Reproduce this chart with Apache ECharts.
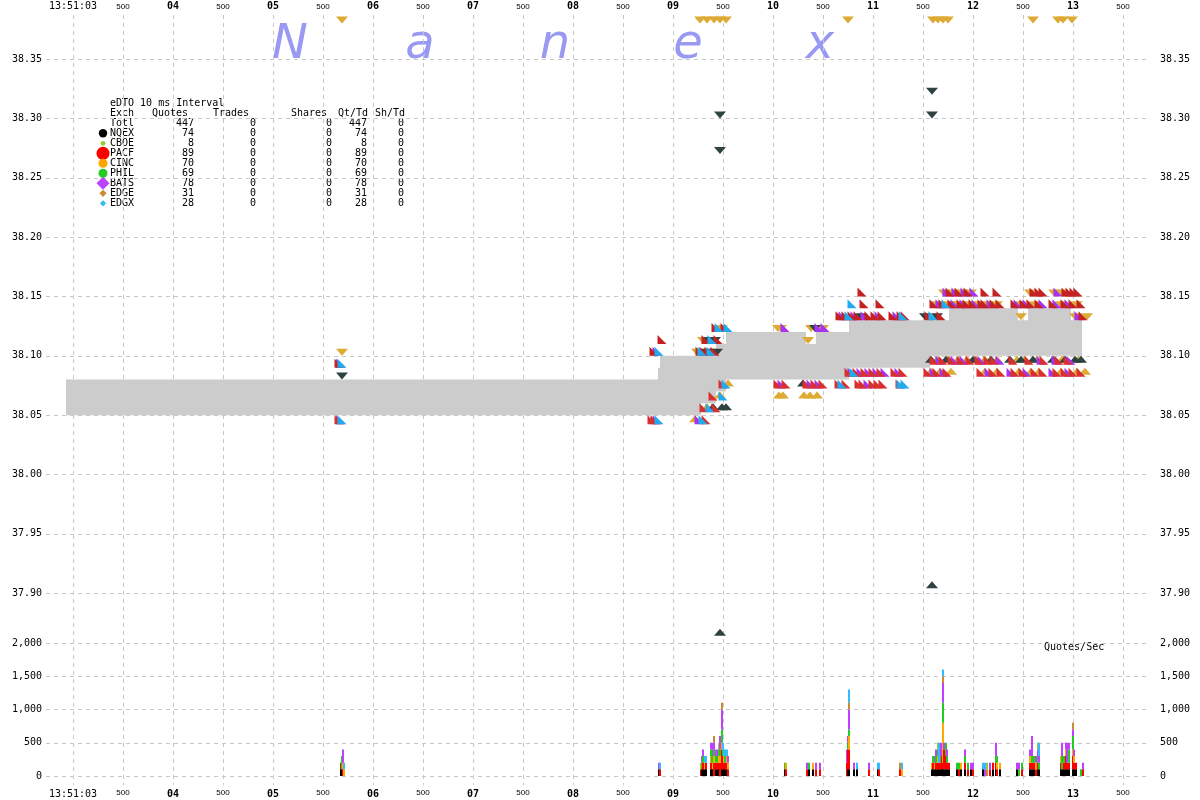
<!DOCTYPE html>
<html><head><meta charset="utf-8">
<script src="https://cdn.jsdelivr.net/npm/echarts@6/dist/echarts.min.js"></script>
<style>html,body{margin:0;padding:0;background:#fff}#c{width:1200px;height:800px}</style>
</head><body><div id="c"></div>
<script>
// ---------------- DATA ----------------
// time in seconds after 13:51:00
const exchanges   = ['NQEX','CBOE','PACF','CINC','PHIL','BATS','EDGE','EDGX'];
const quoteCounts = [74, 8, 89, 70, 69, 78, 31, 28];
const tradeCounts = [0, 0, 0, 0, 0, 0, 0, 0];
const shareCounts = [0, 0, 0, 0, 0, 0, 0, 0];
const qtPerTd     = [74, 8, 89, 70, 69, 78, 31, 28];
const shPerTd     = [0, 0, 0, 0, 0, 0, 0, 0];
const totalRow    = ['Totl', 447, 0, 0, 447, 0];
const titleText   = 'eDTO 10 ms Interval';
const headerCols  = ['Exch','Quotes','Trades','Shares','Qt/Td','Sh/Td'];
const watermark   = ['N','a','n','e','x'];

// NBBO band: [start, end, bid, ask]
const nbboSegments = [
  [2.93, 8.85, 38.05, 38.08],
  [8.85, 8.87, 38.05, 38.09],
  [8.87, 9.28, 38.05, 38.10],
  [9.28, 9.43, 38.06, 38.10],
  [9.43, 9.53, 38.07, 38.11],
  [9.53, 10.33, 38.08, 38.12],
  [10.33, 10.43, 38.08, 38.11],
  [10.43, 10.76, 38.08, 38.12],
  [10.76, 11.57, 38.09, 38.13],
  [11.57, 11.76, 38.10, 38.13],
  [11.76, 12.45, 38.10, 38.14],
  [12.45, 12.55, 38.10, 38.13],
  [12.55, 12.98, 38.10, 38.14],
  [12.98, 13.09, 38.10, 38.13]
];

// quote markers [time, price]
const askNQEX = [[5.69,38.08],[9.33,38.10],[9.44,38.10],[9.36,38.11],[9.42,38.11],[9.47,38.30],[9.47,38.27],[10.42,38.12],[10.88,38.13],[11.52,38.13],[11.64,38.13],[11.59,38.32],[11.59,38.30]];
const bidNQEX = [[9.40,38.06],[9.49,38.06],[9.53,38.06],[9.47,37.87],[10.30,38.08],[11.59,37.91],
  [11.58,38.10],[11.73,38.10],[12.00,38.10],[12.18,38.10],[12.37,38.10],[12.48,38.10],[12.60,38.10],[12.80,38.10],[12.92,38.10],[13.02,38.10],[13.08,38.10]];
const askPACF = [[5.66,38.09],[8.81,38.10],[8.89,38.11],[9.27,38.10],[9.31,38.10],[9.36,38.10],[9.42,38.10],[9.33,38.11],[9.45,38.11],[9.43,38.12],[9.52,38.12],
  [10.67,38.13],[10.73,38.13],[10.79,38.13],[10.85,38.13],[10.96,38.13],[11.02,38.13],[11.09,38.13],[11.20,38.13],[11.28,38.13],[11.32,38.13],
  [10.91,38.14],[11.07,38.14],[10.89,38.15],[11.56,38.13],[11.68,38.13],[13.10,38.13],
  [11.77,38.15],[11.86,38.15],[11.95,38.15],[12.12,38.15],[12.24,38.15],[12.61,38.15],[12.66,38.15],[12.70,38.15],[12.93,38.15],[12.97,38.15],[13.01,38.15],[13.05,38.15],
  [11.61,38.14],[11.70,38.14],[11.79,38.14],[11.88,38.14],[11.94,38.14],[12.00,38.14],[12.09,38.14],[12.12,38.14],[12.21,38.14],[12.27,38.14],[12.42,38.14],[12.51,38.14],[12.58,38.14],[12.66,38.14],[12.80,38.14],[12.92,38.14],[13.00,38.14],[13.08,38.14]];
const bidPACF = [[5.66,38.05],[8.79,38.05],[8.82,38.05],[9.33,38.05],[9.31,38.06],[9.43,38.06],[9.40,38.07],[9.50,38.08],[10.05,38.08],[10.13,38.08],[10.34,38.08],[10.42,38.08],[10.50,38.08],
  [10.76,38.09],[10.84,38.09],[10.92,38.09],[11.00,38.09],[11.08,38.09],[11.22,38.09],[11.30,38.09],
  [10.66,38.08],[10.73,38.08],[10.86,38.08],[10.90,38.08],[11.00,38.08],[11.05,38.08],[11.10,38.08],[11.27,38.08],
  [11.61,38.10],[11.70,38.10],[11.79,38.10],[11.88,38.10],[11.97,38.10],[12.06,38.10],[12.15,38.10],[12.21,38.10],[12.40,38.10],[12.56,38.10],[12.71,38.10],[12.86,38.10],[12.95,38.10],
  [11.55,38.09],[11.64,38.09],[11.74,38.09],[12.08,38.09],[12.20,38.09],[12.28,38.09],[12.42,38.09],[12.50,38.09],[12.62,38.09],[12.70,38.09],[12.84,38.09],[12.92,38.09],[13.00,38.09],[13.08,38.09]];
const askBATS = [[5.675,38.09],[8.84,38.10],[10.12,38.12],[10.46,38.12],[10.52,38.12],[10.70,38.13],[10.82,38.13],[10.92,38.13],[11.06,38.13],[11.24,38.13],[13.06,38.13],
  [11.74,38.15],[11.83,38.15],[11.92,38.15],[12.01,38.15],[12.85,38.15],
  [11.67,38.14],[11.82,38.14],[11.91,38.14],[12.03,38.14],[12.18,38.14],[12.45,38.14],[12.54,38.14],[12.70,38.14],[12.84,38.14],[12.96,38.14]];
const bidBATS = [[5.675,38.05],[8.84,38.05],[9.26,38.05],[10.09,38.08],[10.38,38.08],[10.46,38.08],[10.95,38.08],
  [10.79,38.09],[10.88,38.09],[10.96,38.09],[11.04,38.09],[11.12,38.09],[11.26,38.09],
  [11.67,38.10],[11.82,38.10],[11.91,38.10],[12.09,38.10],[12.27,38.10],[12.68,38.10],[12.83,38.10],[12.98,38.10],
  [11.61,38.09],[11.71,38.09],[12.16,38.09],[12.38,38.09],[12.54,38.09],[12.80,38.09],[12.96,38.09]];
const askEDGX = [[5.69,38.09],[8.86,38.10],[9.29,38.10],[9.38,38.10],[9.39,38.11],[9.46,38.12],[9.55,38.12],[10.76,38.13],[10.79,38.14],[11.30,38.13],[11.60,38.13],[11.73,38.14]];
const bidEDGX = [[5.69,38.05],[8.86,38.05],[9.30,38.05],[9.37,38.06],[9.50,38.07],[9.53,38.08],[10.69,38.08],[10.81,38.09],[11.28,38.08],[11.32,38.08]];
const askCINC = [[5.69,38.38],[9.27,38.38],[9.34,38.38],[9.41,38.38],[9.47,38.38],[9.53,38.38],[10.75,38.38],[11.60,38.38],[11.65,38.38],[11.70,38.38],[11.75,38.38],[12.60,38.38],[12.85,38.38],[12.90,38.38],[12.99,38.38],
  [5.69,38.10],[9.24,38.10],[9.40,38.10],[9.30,38.11],[9.49,38.12],[10.05,38.12],[10.08,38.12],[10.35,38.11],[10.38,38.12],[10.50,38.12],[12.48,38.13],[13.02,38.13],[13.14,38.13],
  [11.71,38.15],[11.80,38.15],[11.89,38.15],[11.98,38.15],[12.57,38.15],[12.81,38.15],[12.89,38.15],
  [11.64,38.14],[11.76,38.14],[11.85,38.14],[11.97,38.14],[12.06,38.14],[12.15,38.14],[12.24,38.14],[12.48,38.14],[12.62,38.14],[12.88,38.14],[13.04,38.14]];
const bidCINC = [[9.22,38.05],[9.34,38.06],[9.47,38.07],[9.55,38.08],[10.06,38.07],[10.10,38.07],[10.31,38.07],[10.37,38.07],[10.44,38.07],
  [11.64,38.10],[11.76,38.10],[11.85,38.10],[11.94,38.10],[12.03,38.10],[12.12,38.10],[12.24,38.10],[12.44,38.10],[12.52,38.10],[12.64,38.10],[12.89,38.10],[13.05,38.10],
  [11.58,38.09],[11.67,38.09],[11.78,38.09],[12.12,38.09],[12.24,38.09],[12.46,38.09],[12.58,38.09],[12.66,38.09],[12.88,38.09],[13.04,38.09],[13.12,38.09]];

// Quotes/Sec per 10 ms bucket: [time, NQEX, PACF, CINC, PHIL, BATS, EDGE, EDGX, CBOE]
const rateOrder = ['NQEX','PACF','CINC','PHIL','BATS','EDGE','EDGX','CBOE'];
const rateRows = [
  [5.68,100,100,0,0,0,0,0,0],[5.69,100,0,0,200,0,0,0,0],[5.70,0,100,100,0,200,0,0,0],[5.71,0,0,100,0,0,0,100,0],
  [8.86,100,0,0,0,100,0,0,0],[8.87,0,100,0,0,0,0,100,0],
  [9.28,0,100,100,0,0,0,0,0],[9.29,100,0,0,100,100,0,0,0],[9.30,100,100,0,100,100,0,0,0],[9.32,100,0,100,0,0,0,100,0],
  [9.33,100,100,0,0,0,0,100,0],[9.38,100,100,100,100,100,0,0,0],[9.39,100,100,0,200,100,0,0,0],[9.40,100,0,100,100,100,0,0,0],
  [9.41,0,200,100,100,100,100,0,0],[9.43,100,100,0,100,100,0,0,0],[9.45,100,100,0,100,100,0,0,0],[9.46,100,100,100,100,0,0,0,100],
  [9.47,0,200,100,100,200,0,0,0],[9.49,100,300,100,200,300,100,0,0],[9.50,100,200,0,100,0,0,100,0],[9.51,100,100,100,0,0,0,100,0],
  [9.52,100,100,0,100,0,0,100,0],[9.54,100,100,100,0,0,0,100,0],[9.55,0,100,100,0,100,0,0,0],
  [10.12,100,0,0,100,0,0,0,0],[10.13,0,100,100,0,0,0,0,0],
  [10.34,0,100,0,0,100,0,0,0],[10.36,100,0,0,100,0,0,0,0],[10.40,100,0,100,0,0,0,0,0],[10.43,0,100,0,0,100,0,0,0],[10.47,0,100,0,0,100,0,0,0],
  [10.74,0,200,0,0,200,0,0,0],[10.75,100,300,0,100,100,0,0,0],[10.76,100,300,200,100,300,100,200,0],
  [10.81,100,0,0,0,100,0,0,0],[10.84,100,0,0,0,0,0,100,0],[10.96,0,100,0,0,100,0,0,0],[11.05,100,0,0,0,0,0,100,0],[11.06,0,100,0,0,0,0,100,0],
  [11.27,0,100,0,0,0,100,0,0],[11.29,0,0,100,0,0,0,100,0],
  [11.59,100,0,100,0,0,0,0,0],[11.60,100,100,0,100,0,0,0,0],[11.62,100,0,100,0,100,0,0,0],[11.63,100,100,0,100,100,0,0,0],
  [11.65,100,100,100,100,0,0,0,100],[11.66,100,100,0,0,0,0,300,0],[11.68,100,100,0,100,200,0,0,0],[11.69,100,200,0,0,100,0,0,0],
  [11.70,100,100,600,300,300,100,100,0],[11.71,100,300,0,0,100,0,0,0],[11.73,100,200,0,200,0,0,0,0],[11.74,100,100,0,100,100,0,0,0],[11.76,100,100,0,0,0,0,0,0],
  [11.84,100,0,0,100,0,0,0,0],[11.86,0,100,0,100,0,0,0,0],[11.88,100,0,100,0,0,0,0,0],[11.92,100,100,0,100,100,0,0,0],
  [11.95,0,100,0,100,0,0,0,0],[11.98,100,0,0,0,100,0,0,0],[12.00,0,100,0,0,100,0,0,0],
  [12.10,100,0,0,0,0,0,100,0],[12.12,0,0,0,0,100,0,100,0],[12.14,0,0,0,0,0,100,0,100],[12.17,0,100,0,0,100,0,0,0],
  [12.20,100,100,0,0,0,0,0,0],[12.23,100,100,0,100,200,0,0,0],[12.24,0,100,100,100,0,0,0,0],[12.27,100,0,100,0,0,0,0,0],
  [12.44,100,0,0,0,100,0,0,0],[12.46,0,0,0,100,100,0,0,0],[12.49,0,100,0,100,0,0,0,0],
  [12.57,100,100,100,0,100,0,0,0],[12.59,100,100,0,100,300,0,0,0],[12.61,100,100,0,100,0,0,0,0],[12.63,0,100,100,0,100,0,0,0],
  [12.65,100,100,0,100,100,0,0,100],[12.66,100,0,0,100,100,0,200,0],
  [12.88,100,100,100,0,0,0,0,0],[12.89,100,0,0,200,200,0,0,0],[12.91,100,100,0,100,0,0,0,0],[12.93,100,200,100,0,100,0,0,0],
  [12.94,100,100,0,0,300,0,0,0],[12.96,100,100,0,200,100,0,0,0],[13.00,100,200,100,200,100,100,0,0],[13.01,100,100,100,0,100,0,0,0],
  [13.03,100,100,0,0,0,0,0,0],[13.08,0,0,0,100,0,0,0,0],[13.10,0,100,0,0,100,0,0,0]
];

// axis ranges / ticks
const timeMin = 2.5, timeMax = 14, timeStep = 0.5;
const plotTimeMin = 2.73, plotTimeMax = 13.77;
const priceMin = 37.85, priceMax = 38.3868, priceStep = 0.05;
const rateMin = 0, rateMax = 2000, rateStep = 500;
const firstTickLabel = '13:51:03';
const halfTickLabel = '500';
const rateAxisTitle = 'Quotes/Sec';

// ---------------- STYLE ----------------
const MONO = 'DejaVu Sans Mono';
const gridDash = {color:'#c8c8c8', type:[4,4], width:1};
const rateColors = {NQEX:'#000000', PACF:'#ff0000', CINC:'#ffaa00', PHIL:'#22cc22', BATS:'#c040ff', EDGE:'#cc8833', EDGX:'#33bbff', CBOE:'#99cc33'};
const legendColors = {NQEX:'#000000', CBOE:'#99cc33', PACF:'#ff0000', CINC:'#ffa500', PHIL:'#22cc22', BATS:'#bb44ff', EDGE:'#cc8833', EDGX:'#33bbee'};
const HALF = 'path://M0,0L0,10L10,10Z';
const DOWN = 'path://M0,0L12,0L6,7Z';
const UP = 'path://M6,0L12,7L0,7Z';

function pad2(n){ return (n<10?'0':'') + n; }
function timeLabel(v){
  if (Math.abs(v-3) < 1e-6) return '{a|' + firstTickLabel + '}';
  if (Math.abs(v-Math.round(v)) < 1e-6) return '{b|' + pad2(Math.round(v)) + '}';
  return '{c|' + halfTickLabel + '}';
}
const timeRich = {
  a:{fontFamily:MONO, fontSize:10, color:'#000'},
  b:{fontFamily:MONO, fontSize:10, fontWeight:'bold', color:'#000'},
  c:{fontFamily:'Liberation Sans', fontSize:8, color:'#000'}
};
function commas(v){ return String(v).replace(/\B(?=(\d{3})+(?!\d))/g, ','); }

function quoteSeries(name, data, color, isAsk, shape){
  let sym, size, off;
  if (shape === 'tri') { sym = isAsk ? DOWN : UP; size = [12,7]; off = isAsk ? -3.5 : 3.5; }
  else { sym = HALF; size = [9,9]; off = isAsk ? -4.5 : 4.5; }
  return {
    name, type:'scatter', xAxisIndex:2, yAxisIndex:0, data,
    symbol: sym, symbolSize: size, symbolOffset:[0, off],
    itemStyle:{color, opacity:1}, silent:true, z:3
  };
}

// legend graphics
const graphics = [];
watermark.forEach((ch, i) => {
  graphics.push({type:'text', x:[290,420,555,688,820][i], y:46, z:-10, silent:true,
    style:{text:ch, fontFamily:'DejaVu Sans', fontStyle:'italic', fontSize:48, fill:'#9999f4', align:'center', verticalAlign:'middle'}});
});
function txt(s, x, y, align){
  graphics.push({type:'text', x, y, silent:true, style:{text:String(s), fontFamily:MONO, fontSize:10, fill:'#000', align:align||'left', verticalAlign:'middle'}});
}
txt(titleText, 110, 103.5);
txt(headerCols[0], 110, 113.5);
txt(headerCols[1], 152, 113.5);
txt(headerCols[2], 213, 113.5);
txt(headerCols[3], 291, 113.5);
txt(headerCols[4], 338, 113.5);
txt(headerCols[5], 375, 113.5);
const colX = [194, 256, 332, 367, 404];
function row(cells, y){
  txt(cells[0], 110, y);
  for (let k=1;k<6;k++) txt(cells[k], colX[k-1], y, 'right');
}
row(totalRow, 123.5);
exchanges.forEach((ex, i) => {
  const y = 133.5 + i*10;
  row([ex, quoteCounts[i], tradeCounts[i], shareCounts[i], qtPerTd[i], shPerTd[i]], y);
});
const markerDefs = {NQEX:['c',4.2], CBOE:['c',2.4], PACF:['c',6.5], CINC:['c',4.5], PHIL:['c',4.5], BATS:['d',6.5], EDGE:['d',3.6], EDGX:['d',3.1]};
exchanges.forEach((ex, i) => {
  const y = 133.3 + i*10, cx = 103, d = markerDefs[ex];
  if (d[0]==='c') graphics.push({type:'circle', silent:true, z:5, shape:{cx, cy:y, r:d[1]}, style:{fill:legendColors[ex]}});
  else graphics.push({type:'polygon', silent:true, z:5, shape:{points:[[cx,y-d[1]],[cx+d[1],y],[cx,y+d[1]],[cx-d[1],y]]}, style:{fill:legendColors[ex]}});
});
graphics.push({type:'text', x:1044, y:647.5, silent:true, style:{text:rateAxisTitle, fontFamily:MONO, fontSize:10, fill:'#000', align:'left', verticalAlign:'middle'}});

const chart = echarts.init(document.getElementById('c'), null, {renderer:'canvas'});
const option = {
  animation:false,
  backgroundColor:'#ffffff',
  grid:[
    {left:23, right:27, top:15, bottom:15, outerBoundsMode:'none'},
    {left:46, right:50, top:15.5, height:637, outerBoundsMode:'none'},
    {left:46, right:50, top:643, height:133, outerBoundsMode:'none'}
  ],
  xAxis:[
    {gridIndex:0, type:'value', position:'bottom', min:timeMin, max:timeMax, interval:timeStep,
     axisLine:{show:false}, axisTick:{show:false},
     splitLine:{show:true, showMinLine:false, showMaxLine:false, lineStyle:gridDash},
     axisLabel:{margin:4, showMinLabel:false, showMaxLabel:false, formatter:timeLabel, rich:timeRich}},
    {gridIndex:0, type:'value', position:'top', min:timeMin, max:timeMax, interval:timeStep,
     axisLine:{show:false}, axisTick:{show:false}, splitLine:{show:false},
     axisLabel:{margin:4, showMinLabel:false, showMaxLabel:false, formatter:timeLabel, rich:timeRich}},
    {gridIndex:1, type:'value', min:plotTimeMin, max:plotTimeMax, show:false},
    {gridIndex:2, type:'value', min:plotTimeMin, max:plotTimeMax, show:false}
  ],
  yAxis:[
    {gridIndex:1, type:'value', position:'left', min:priceMin, max:priceMax, interval:priceStep,
     axisLine:{show:false}, axisTick:{show:false},
     splitLine:{show:true, showMinLine:false, showMaxLine:false, lineStyle:gridDash},
     axisLabel:{margin:4, showMinLabel:false, showMaxLabel:false, fontFamily:MONO, fontSize:10, color:'#000', formatter:v=>v.toFixed(2)}},
    {gridIndex:1, type:'value', position:'right', min:priceMin, max:priceMax, interval:priceStep,
     axisLine:{show:false}, axisTick:{show:false}, splitLine:{show:false},
     axisLabel:{margin:10, showMinLabel:false, showMaxLabel:false, fontFamily:MONO, fontSize:10, color:'#000', formatter:v=>v.toFixed(2)}},
    {gridIndex:2, type:'value', position:'left', min:rateMin, max:rateMax, interval:rateStep,
     axisLine:{show:false}, axisTick:{show:false},
     splitLine:{show:true, lineStyle:gridDash},
     axisLabel:{margin:4, fontFamily:MONO, fontSize:10, color:'#000', formatter:commas}},
    {gridIndex:2, type:'value', position:'right', min:rateMin, max:rateMax, interval:rateStep,
     axisLine:{show:false}, axisTick:{show:false}, splitLine:{show:false},
     axisLabel:{margin:10, fontFamily:MONO, fontSize:10, color:'#000', formatter:commas}},
    {gridIndex:0, type:'value', min:0, max:1, show:false}
  ],
  graphic: graphics,
  series:[
    {type:'custom', name:'NBBO', xAxisIndex:2, yAxisIndex:0, data:nbboSegments, silent:true, z:2,
     encode:{x:[0,1], y:[2,3]},
     renderItem:function(params, api){
       const p0 = api.coord([api.value(0), api.value(3)]);
       const p1 = api.coord([api.value(1), api.value(2)]);
       return {type:'rect', shape:{x:p0[0], y:p0[1], width:p1[0]-p0[0], height:p1[1]-p0[1]}, style:{fill:'#cccccc'}};
     }},
    quoteSeries('CINC ask', askCINC, '#ddaa33', true, 'tri'),
    quoteSeries('CINC bid', bidCINC, '#ddaa33', false, 'tri'),
    quoteSeries('NQEX ask', askNQEX, '#2f4242', true, 'tri'),
    quoteSeries('NQEX bid', bidNQEX, '#2f4242', false, 'tri'),
    quoteSeries('BATS ask', askBATS, '#a833ee', true, 'half'),
    quoteSeries('BATS bid', bidBATS, '#a833ee', false, 'half'),
    quoteSeries('PACF ask', askPACF, '#c42222', true, 'half'),
    quoteSeries('PACF bid', bidPACF, '#d83030', false, 'half'),
    quoteSeries('EDGX ask', askEDGX, '#22aaee', true, 'half'),
    quoteSeries('EDGX bid', bidEDGX, '#22aaee', false, 'half'),
    {type:'custom', name:'Quotes/Sec', xAxisIndex:3, yAxisIndex:2, data:rateRows, silent:true, z:3,
     encode:{x:0, y:1},
     renderItem:function(params, api){
       const t = api.value(0);
       let base = 0; const children = [];
       for (let k=1;k<=8;k++){
         const v = api.value(k);
         if (v > 0){
           const top = api.coord([t, base+v]);
           const bot = api.coord([t, base]);
           children.push({type:'rect', shape:{x:top[0]-1, y:top[1], width:2, height:bot[1]-top[1]}, style:{fill:rateColors[rateOrder[k-1]]}});
           base += v;
         }
       }
       return {type:'group', children};
     }}
  ]
};
chart.setOption(option);
</script>
</body></html>
